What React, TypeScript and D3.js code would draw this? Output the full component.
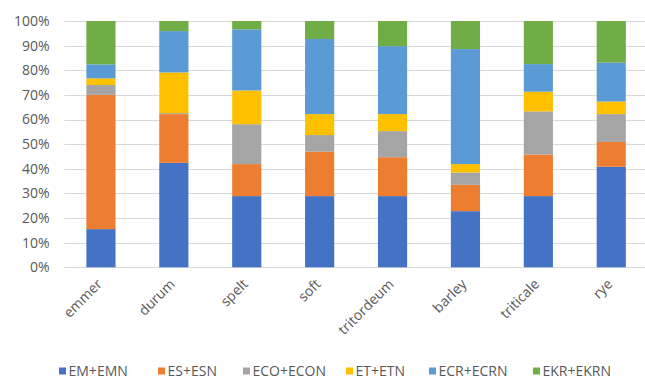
import React from "react";
import * as d3 from "d3";

const categories = ["emmer", "durum", "spelt", "soft", "tritordeum", "barley", "triticale", "rye"];
const seriesNames = ["EM+EMN", "ES+ESN", "ECO+ECON", "ET+ETN", "ECR+ECRN", "EKR+EKRN"];
const seriesColors = ["#4472C4", "#ED7D31", "#A5A5A5", "#FFC000", "#5B9BD5", "#70AD47"];

// Percent share of each group per cereal (stacked to 100%)
const emEmn = [15.5, 42.4, 28.9, 28.9, 28.9, 22.8, 28.9, 40.8];
const esEsn = [54.5, 19.8, 13.0, 18.1, 15.8, 10.7, 16.9, 10.1];
const ecoEcon = [4.0, 0.4, 16.2, 6.7, 10.6, 5.0, 17.5, 11.3];
const etEtn = [2.7, 16.5, 13.7, 8.5, 6.9, 3.4, 8.0, 5.1];
const ecrEcrn = [5.7, 16.8, 24.8, 30.5, 27.6, 46.7, 11.2, 15.8];
const ekrEkrn = [17.6, 4.1, 3.4, 7.3, 10.2, 11.4, 17.5, 16.9];

const yTicks = [0, 10, 20, 30, 40, 50, 60, 70, 80, 90, 100];

const W = 645;
const H = 380;
const FONT = "'Open Sans', sans-serif";
const TEXT = "#595959";

export default function App() {
  const seriesValues = [emEmn, esEsn, ecoEcon, etEtn, ecrEcrn, ekrEkrn];
  const rows = categories.map((c, i) => {
    const r: Record<string, any> = { category: c };
    seriesNames.forEach((s, j) => (r[s] = seriesValues[j][i]));
    return r;
  });
  const stacked = d3.stack<any>().keys(seriesNames).offset(d3.stackOffsetExpand)(rows);

  const x = d3.scaleBand().domain(categories).range([64.5, 647.7]).paddingInner(0.6).paddingOuter(0.3);
  const y = d3.scaleLinear().domain([0, 1]).range([267.3, 21]);

  const legendX = [59, 158, 243, 346, 429, 533];

  return (
    <svg width={W} height={H} style={{ position: "absolute", left: 0, top: 0, background: "#fff" }}>
      {yTicks.map((t) => (
        <g key={t}>
          <line x1={64.5} x2={W} y1={Math.round(y(t / 100)) + 0.5} y2={Math.round(y(t / 100)) + 0.5} stroke="#D9D9D9" strokeWidth={1} />
          <text x={49.5} y={y(t / 100)} dy="0.35em" textAnchor="end" fontFamily={FONT} fontSize={14} fill={TEXT}>
            {t}%
          </text>
        </g>
      ))}
      {stacked.map((layer, j) => (
        <g key={layer.key} fill={seriesColors[j]}>
          {layer.map((d: any, i: number) => (
            <rect
              key={i}
              x={x(categories[i])}
              width={x.bandwidth()}
              y={y(d[1])}
              height={y(d[0]) - y(d[1])}
            />
          ))}
        </g>
      ))}
      {categories.map((c) => {
        const cx = (x(c) as number) + x.bandwidth() / 2;
        return (
          <text
            key={c}
            transform={`translate(${cx + 2},${285}) rotate(-45)`}
            textAnchor="end"
            fontFamily={FONT}
            fontSize={14}
            fill={TEXT}
          >
            {c}
          </text>
        );
      })}
      {seriesNames.map((s, j) => (
        <g key={s} transform={`translate(${legendX[j]},371)`}>
          <rect x={0} y={-3.5} width={7} height={7} fill={seriesColors[j]} />
          <text x={9.5} dy="0.35em" fontFamily={FONT} fontSize={14} fill={TEXT}>
            {s}
          </text>
        </g>
      ))}
    </svg>
  );
}
